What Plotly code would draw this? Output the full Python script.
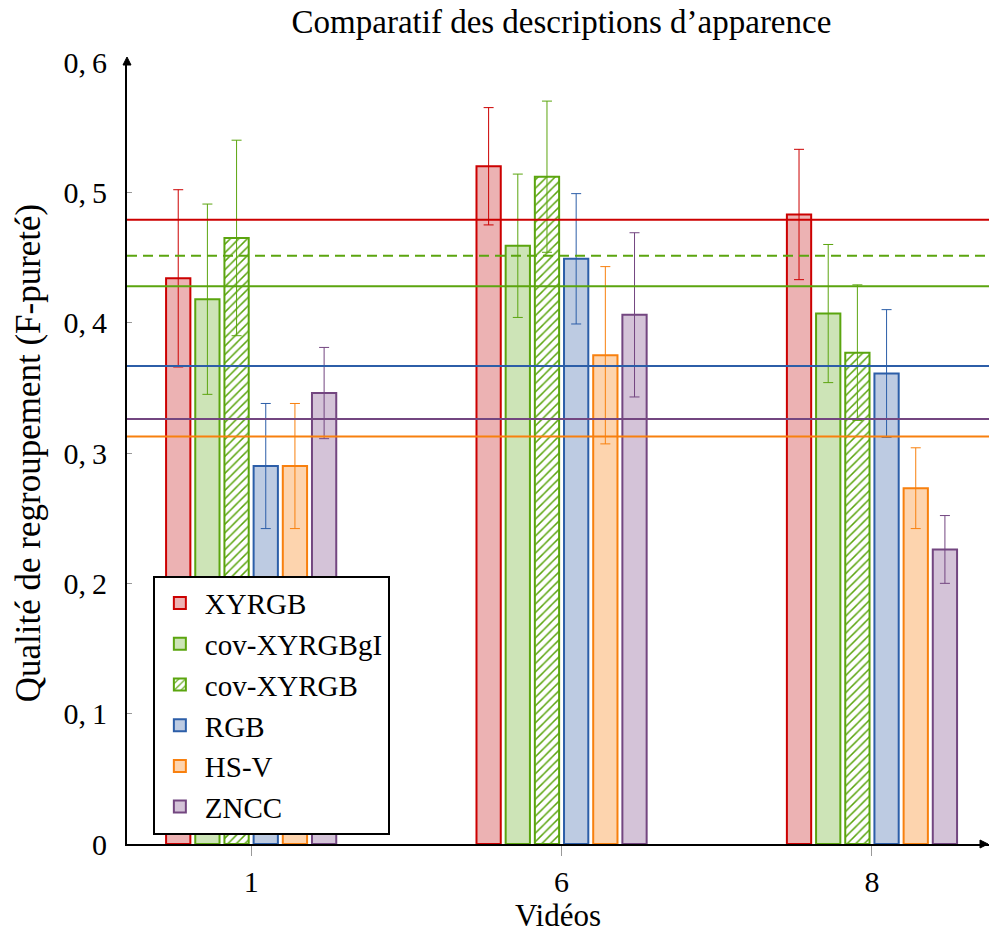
import plotly.graph_objects as go

# ---- data ----
videos = ["1", "6", "8"]
series_names = ["XYRGB", "cov-XYRGBgI", "cov-XYRGB", "RGB", "HS-V", "ZNCC"]
xyrgb = [0.434, 0.520, 0.483]
xyrgb_err = [0.068, 0.045, 0.050]
cov_xyrgbgi = [0.418, 0.459, 0.407]
cov_xyrgbgi_err = [0.073, 0.055, 0.053]
cov_xyrgb = [0.465, 0.512, 0.377]
cov_xyrgb_err = [0.075, 0.058, 0.052]
rgb = [0.290, 0.449, 0.361]
rgb_err = [0.048, 0.050, 0.049]
hsv = [0.290, 0.375, 0.273]
hsv_err = [0.048, 0.068, 0.031]
zncc = [0.346, 0.406, 0.226]
zncc_err = [0.035, 0.063, 0.026]
y_tickvals = [0, 0.1, 0.2, 0.3, 0.4, 0.5, 0.6]
y_ticktext = ["0", "0,\u20091", "0,\u20092", "0,\u20093", "0,\u20094", "0,\u20095", "0,\u20096"]

values = [xyrgb, cov_xyrgbgi, cov_xyrgb, rgb, hsv, zncc]
errors = [xyrgb_err, cov_xyrgbgi_err, cov_xyrgb_err, rgb_err, hsv_err, zncc_err]

# ---- styles ----
line_colors = ["#cc0000", "#5ba50f", "#5ba50f", "#2c5ea8", "#f8800e", "#734680"]
fill_colors = ["#ecb2b3", "#cde4b7", "#ffffff", "#bdcbe2", "#fdd4ae", "#d4c3d8"]
hatched = [False, False, True, False, False, False]
mean_dash = ["solid", "solid", "10px,6px", "solid", "solid", "solid"]

FONT = "Liberation Serif"

fig = go.Figure()
for i, name in enumerate(series_names):
    marker = dict(color=fill_colors[i], line=dict(color=line_colors[i], width=2))
    if hatched[i]:
        marker["pattern"] = dict(shape="/", fgcolor=line_colors[i], bgcolor="#ffffff",
                                 size=6, solidity=0.25, fillmode="replace")
    fig.add_trace(go.Bar(
        x=videos, y=values[i], name=name, marker=marker,
        legendgroup=name,
        error_y=dict(type="data", array=errors[i], visible=True,
                     color=line_colors[i], thickness=1, width=5),
    ))

# mean lines
shapes = []
for i, name in enumerate(series_names):
    m = sum(values[i]) / len(values[i])
    shapes.append(dict(type="line", xref="paper", x0=0, x1=1, yref="y", y0=m, y1=m,
                       line=dict(color=line_colors[i], width=2, dash=mean_dash[i]),
                       layer="above"))

# axis arrowheads
shapes.append(dict(type="path", xref="paper", yref="paper",
                   xsizemode="pixel", ysizemode="pixel", xanchor=0, yanchor=1,
                   path="M -4 -3 L 0 5 L 4 -3 Z", fillcolor="black",
                   line=dict(color="black", width=1), layer="above"))
shapes.append(dict(type="path", xref="paper", yref="paper",
                   xsizemode="pixel", ysizemode="pixel", xanchor=1, yanchor=0,
                   path="M -9 4 L -1 0 L -9 -4 Z", fillcolor="black",
                   line=dict(color="black", width=1), layer="above"))

fig.update_layout(
    width=989, height=938,
    margin=dict(l=127, r=0, t=62, b=94),
    paper_bgcolor="white", plot_bgcolor="white",
    barmode="group", bargap=0.436, bargroupgap=0.168,
    font=dict(family=FONT, size=30, color="black"),
    title=dict(text="Comparatif des descriptions d\u2019apparence", x=0.5677, xanchor="center",
               y=1 - 21 / 938, yanchor="middle", font=dict(family=FONT, size=33)),
    shapes=shapes,
    showlegend=True,
    legend=dict(x=0.03, y=0.343, xanchor="left", yanchor="top",
                bgcolor="white", bordercolor="black", borderwidth=2,
                font=dict(family=FONT, size=29), tracegroupgap=0,
                itemwidth=40),
)
fig.update_xaxes(
    type="category", range=[-0.4, 2.377],
    showline=True, linecolor="black", linewidth=2,
    ticks="outside", ticklen=10, tickcolor="#999999", tickwidth=1,
    showgrid=False, zeroline=False,
    tickfont=dict(family=FONT, size=30),
    ticklabelstandoff=0,
    title=dict(text="Vidéos", font=dict(family=FONT, size=31), standoff=2),
)
fig.update_yaxes(
    range=[0, 0.6], tickvals=y_tickvals, ticktext=y_ticktext,
    showline=True, linecolor="black", linewidth=2,
    ticks="inside", ticklen=5, tickcolor="#999999", tickwidth=1,
    showgrid=False, zeroline=False,
    tickfont=dict(family=FONT, size=30),
    ticklabelstandoff=12,
    title=dict(text="Qualité de regroupement (F-pureté)", font=dict(family=FONT, size=35),
               standoff=12),
)

fig.write_html(
    "out.html",
    config={"displayModeBar": False},
    post_script="document.body.style.margin='0px';document.body.style.overflow='hidden';",
)
